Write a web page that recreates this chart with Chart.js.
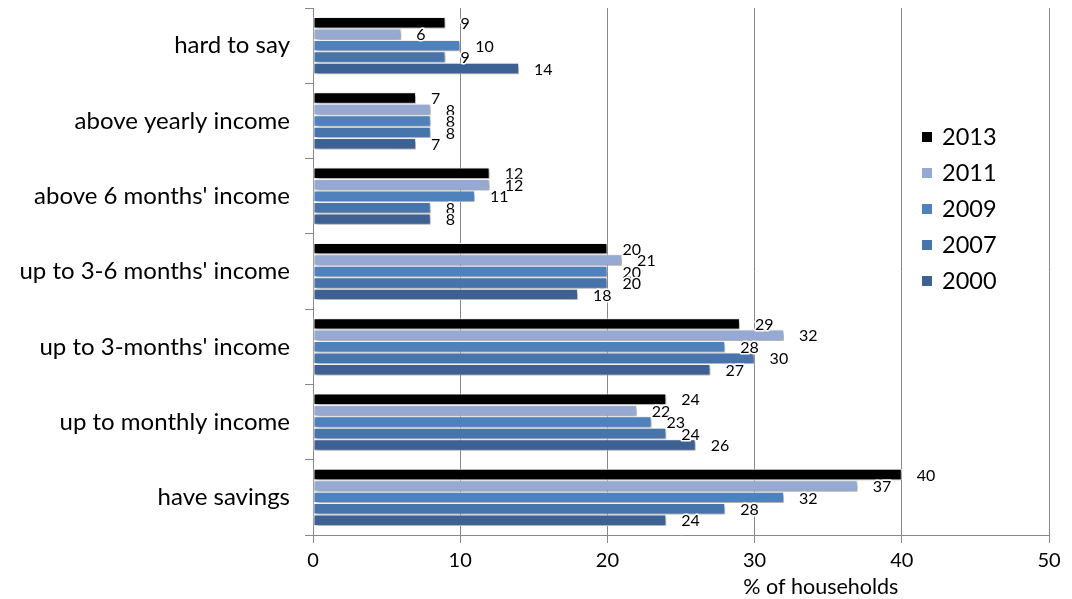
<!DOCTYPE html>
<html>
<head>
<meta charset="utf-8">
<script src="https://cdn.jsdelivr.net/npm/chart.js@4.4.0/dist/chart.umd.min.js"></script>
<style>
  html, body { margin: 0; padding: 0; background: #fff; }
  #wrap { width: 1072px; height: 599px; }
</style>
</head>
<body>
<div id="wrap"><canvas id="chart" width="1072" height="599"></canvas></div>
<script>
const categories = [
  'hard to say',
  'above yearly income',
  "above 6 months' income",
  "up to 3-6 months' income",
  "up to 3-months' income",
  'up to monthly income',
  'have savings'
];
const years = ['2013', '2011', '2009', '2007', '2000'];
const values2013 = [9, 7, 12, 20, 29, 24, 40];
const values2011 = [6, 8, 12, 21, 32, 22, 37];
const values2009 = [10, 8, 11, 20, 28, 23, 32];
const values2007 = [9, 8, 8, 20, 30, 24, 28];
const values2000 = [14, 7, 8, 18, 27, 26, 24];
const xMin = 0, xMax = 50, xStep = 10;
const axisTitle = '% of households';

const seriesValues = [values2013, values2011, values2009, values2007, values2000];
const seriesColors = ['#000000', '#95a9d2', '#4f81bd', '#4674ab', '#3d6192'];
const FONT = 'Lato, "Open Sans", sans-serif';
const GRID = '#888888';

// soft drop shadow under the bars
const barShadow = {
  id: 'barShadow',
  beforeDatasetsDraw(chart) {
    const ctx = chart.ctx;
    ctx.save();
    ctx.shadowColor = 'rgba(0,0,0,0.4)';
    ctx.shadowBlur = 4;
    ctx.shadowOffsetX = 2;
    ctx.shadowOffsetY = 2;
  },
  afterDatasetsDraw(chart) {
    chart.ctx.restore();
  }
};

// numbers at the end of each bar
const valueLabels = {
  id: 'valueLabels',
  afterDatasetsDraw(chart) {
    const ctx = chart.ctx;
    ctx.save();
    ctx.font = '16px ' + FONT;
    ctx.textAlign = 'left';
    ctx.textBaseline = 'middle';
    ctx.lineJoin = 'round';
    chart.data.datasets.forEach((ds, i) => {
      chart.getDatasetMeta(i).data.forEach((bar, j) => {
        const txt = String(ds.data[j]);
        const x = bar.x + 15, y = bar.y + 1;
        ctx.strokeStyle = '#ffffff';
        ctx.lineWidth = 3;
        ctx.strokeText(txt, x, y);
        ctx.fillStyle = '#000000';
        ctx.fillText(txt, x, y);
      });
    });
    ctx.restore();
  }
};

// legend inside the plot, plus the x axis title
const sideLegend = {
  id: 'sideLegend',
  afterDraw(chart) {
    const ctx = chart.ctx;
    ctx.save();
    ctx.font = '23.5px ' + FONT;
    ctx.textBaseline = 'middle';
    ctx.textAlign = 'left';
    chart.data.datasets.forEach((ds, i) => {
      const y = 137 + i * 36;
      ctx.fillStyle = ds.backgroundColor;
      ctx.fillRect(922, y - 5, 10, 10);
      ctx.fillStyle = '#000000';
      ctx.fillText(ds.label, 942, y);
    });
    ctx.font = '21.5px ' + FONT;
    ctx.textAlign = 'center';
    ctx.fillText(axisTitle, chart.scales.x.getPixelForValue(34.5), 587);
    ctx.restore();
  }
};

new Chart(document.getElementById('chart'), {
  type: 'bar',
  plugins: [barShadow, valueLabels, sideLegend],
  data: {
    labels: categories,
    datasets: years.map((y, i) => ({
      label: y,
      data: seriesValues[i],
      backgroundColor: seriesColors[i],
      borderColor: '#ffffff',
      borderWidth: 1,
      borderSkipped: false,
      categoryPercentage: 0.76,
      barPercentage: 1
    }))
  },
  options: {
    indexAxis: 'y',
    responsive: false,
    animation: false,
    devicePixelRatio: 1,
    layout: { padding: { top: 8, right: 23, bottom: 0, left: 0 } },
    plugins: {
      legend: { display: false },
      tooltip: { enabled: false }
    },
    scales: {
      x: {
        min: xMin,
        max: xMax,
        ticks: { stepSize: xStep, color: '#000', font: { family: FONT, size: 20 }, padding: 6 },
        grid: { color: GRID, lineWidth: 1, tickLength: 8, drawTicks: true },
        border: { display: true, color: GRID },
        afterFit(scale) { scale.height = 64; }
      },
      y: {
        ticks: { color: '#000', font: { family: FONT, size: 24 }, padding: 15 },
        grid: { drawOnChartArea: false, color: GRID, tickLength: 8, offset: true },
        border: { display: true, color: GRID },
        afterFit(scale) {
          scale.width = 313;
          scale.paddingTop = 0;
          scale.paddingBottom = 0;
        }
      }
    }
  }
});
</script>
</body>
</html>
